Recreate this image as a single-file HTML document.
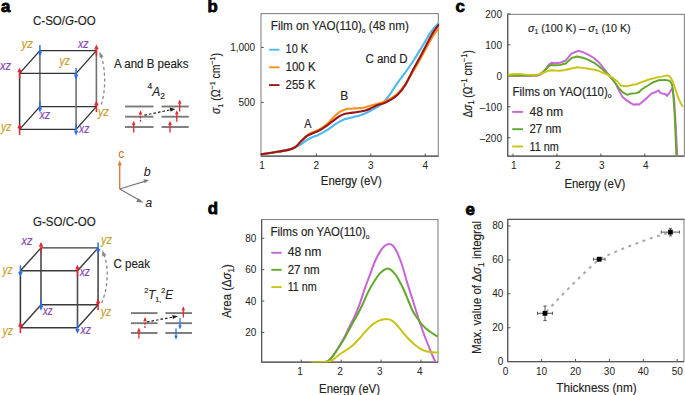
<!DOCTYPE html>
<html><head><meta charset="utf-8"><style>
html,body{margin:0;padding:0;background:#fff;}
svg{display:block;font-family:"Liberation Sans", sans-serif;}
text{stroke:#222;stroke-width:0.15px;}
</style></head><body>
<svg width="685" height="395" viewBox="0 0 685 395">
<text x="1.0" y="11.9" font-size="16.8" text-anchor="start" fill="#000" font-weight="bold" font-style="normal" style="stroke:#000;stroke-width:0.8px">a</text>
<text x="33" y="25.3" font-size="12" text-anchor="start" fill="#222" font-weight="normal" font-style="normal" textLength="62.7" lengthAdjust="spacingAndGlyphs" style="stroke:#222;stroke-width:0.15px" >C-SO/<tspan font-style="italic">G</tspan>-OO</text>
<line x1="39.900000000000006" y1="50.60000000000001" x2="39.900000000000006" y2="106.60000000000001" stroke="#707070" stroke-width="1.6" />
<line x1="96.39999999999999" y1="50.60000000000001" x2="96.39999999999999" y2="106.60000000000001" stroke="#707070" stroke-width="1.6" />
<line x1="39.900000000000006" y1="50.60000000000001" x2="96.39999999999999" y2="50.60000000000001" stroke="#333" stroke-width="1.4" />
<line x1="39.900000000000006" y1="106.60000000000001" x2="96.39999999999999" y2="106.60000000000001" stroke="#333" stroke-width="1.4" />
<line x1="19.6" y1="73.4" x2="39.900000000000006" y2="50.60000000000001" stroke="#333" stroke-width="1.4" />
<line x1="76.1" y1="73.4" x2="96.39999999999999" y2="50.60000000000001" stroke="#333" stroke-width="1.4" />
<line x1="19.6" y1="129.4" x2="39.900000000000006" y2="106.60000000000001" stroke="#333" stroke-width="1.4" />
<line x1="76.1" y1="129.4" x2="96.39999999999999" y2="106.60000000000001" stroke="#333" stroke-width="1.4" />
<line x1="19.6" y1="73.4" x2="76.1" y2="73.4" stroke="#333" stroke-width="1.4" />
<line x1="19.6" y1="129.4" x2="76.1" y2="129.4" stroke="#333" stroke-width="1.4" />
<line x1="19.6" y1="73.4" x2="19.6" y2="129.4" stroke="#333" stroke-width="1.5" />
<line x1="76.1" y1="73.4" x2="76.1" y2="129.4" stroke="#707070" stroke-width="1.6" />
<line x1="39.900000000000006" y1="45.10000000000001" x2="39.900000000000006" y2="51.80000000000001" stroke="#2f6fe0" stroke-width="1.5" />
<polygon points="37.60000000000001,51.80000000000001 42.2,51.80000000000001 39.900000000000006,56.60000000000001" fill="#2f6fe0"/>
<line x1="96.39999999999999" y1="56.10000000000001" x2="96.39999999999999" y2="49.400000000000006" stroke="#e8232b" stroke-width="1.5" />
<polygon points="94.1,49.400000000000006 98.69999999999999,49.400000000000006 96.39999999999999,44.60000000000001" fill="#e8232b"/>
<line x1="19.6" y1="78.9" x2="19.6" y2="72.2" stroke="#e8232b" stroke-width="1.5" />
<polygon points="17.3,72.2 21.900000000000002,72.2 19.6,67.4" fill="#e8232b"/>
<line x1="76.1" y1="67.9" x2="76.1" y2="74.60000000000001" stroke="#2f6fe0" stroke-width="1.5" />
<polygon points="73.8,74.60000000000001 78.39999999999999,74.60000000000001 76.1,79.4" fill="#2f6fe0"/>
<line x1="39.900000000000006" y1="101.10000000000001" x2="39.900000000000006" y2="107.80000000000001" stroke="#2f6fe0" stroke-width="1.5" />
<polygon points="37.60000000000001,107.80000000000001 42.2,107.80000000000001 39.900000000000006,112.60000000000001" fill="#2f6fe0"/>
<line x1="96.39999999999999" y1="112.10000000000001" x2="96.39999999999999" y2="105.4" stroke="#e8232b" stroke-width="1.5" />
<polygon points="94.1,105.4 98.69999999999999,105.4 96.39999999999999,100.60000000000001" fill="#e8232b"/>
<line x1="19.6" y1="134.9" x2="19.6" y2="128.20000000000002" stroke="#e8232b" stroke-width="1.5" />
<polygon points="17.3,128.20000000000002 21.900000000000002,128.20000000000002 19.6,123.4" fill="#e8232b"/>
<line x1="76.1" y1="123.9" x2="76.1" y2="130.6" stroke="#2f6fe0" stroke-width="1.5" />
<polygon points="73.8,130.6 78.39999999999999,130.6 76.1,135.4" fill="#2f6fe0"/>
<text x="21.5" y="48" font-size="12" text-anchor="start" fill="#c9a030" font-weight="normal" font-style="italic" textLength="11.5" lengthAdjust="spacingAndGlyphs" style="stroke:#c9a030;stroke-width:0.15px" >yz</text>
<text x="78" y="47.5" font-size="12" text-anchor="start" fill="#8447b8" font-weight="normal" font-style="italic" textLength="10.6" lengthAdjust="spacingAndGlyphs" style="stroke:#8447b8;stroke-width:0.15px" >xz</text>
<text x="0" y="69.5" font-size="12" text-anchor="start" fill="#8447b8" font-weight="normal" font-style="italic" textLength="11" lengthAdjust="spacingAndGlyphs" style="stroke:#8447b8;stroke-width:0.15px" >xz</text>
<text x="59.5" y="64.8" font-size="12" text-anchor="start" fill="#c9a030" font-weight="normal" font-style="italic" textLength="10.5" lengthAdjust="spacingAndGlyphs" style="stroke:#c9a030;stroke-width:0.15px" >yz</text>
<text x="39.4" y="118.8" font-size="12" text-anchor="start" fill="#8447b8" font-weight="normal" font-style="italic" textLength="10.6" lengthAdjust="spacingAndGlyphs" style="stroke:#8447b8;stroke-width:0.15px" >xz</text>
<text x="98" y="115.5" font-size="12" text-anchor="start" fill="#c9a030" font-weight="normal" font-style="italic" textLength="11" lengthAdjust="spacingAndGlyphs" style="stroke:#c9a030;stroke-width:0.15px" >yz</text>
<text x="0.9" y="131.3" font-size="12" text-anchor="start" fill="#c9a030" font-weight="normal" font-style="italic" textLength="10.5" lengthAdjust="spacingAndGlyphs" style="stroke:#c9a030;stroke-width:0.15px" >yz</text>
<text x="79" y="133.3" font-size="12" text-anchor="start" fill="#8447b8" font-weight="normal" font-style="italic" textLength="10.3" lengthAdjust="spacingAndGlyphs" style="stroke:#8447b8;stroke-width:0.15px" >xz</text>
<path d="M101.2,104.5 C105.5,92 106,72 101.5,57" fill="none" stroke="#8a8a8a" stroke-width="1.3" stroke-dasharray="3.2,2.6"/>
<polygon points="99.4,51.6 103.6,56.6 99.6,57.8" fill="#8a8a8a"/>
<text x="114" y="67.8" font-size="12" text-anchor="start" fill="#222" font-weight="normal" font-style="normal" textLength="74.4" lengthAdjust="spacingAndGlyphs" style="stroke:#222;stroke-width:0.15px" >A and B peaks</text>
<text x="147.5" y="95.5" font-size="12" fill="#222"><tspan font-size="8.5" dy="-6.5">4</tspan><tspan font-style="italic" dy="6.5">A</tspan><tspan font-size="8.5" dy="3.5">2</tspan></text>
<line x1="125" y1="106.5" x2="153.5" y2="106.5" stroke="#7a7a7a" stroke-width="1.9" />
<line x1="125" y1="116.7" x2="153.5" y2="116.7" stroke="#7a7a7a" stroke-width="1.9" />
<line x1="125" y1="127" x2="153.5" y2="127" stroke="#7a7a7a" stroke-width="1.9" />
<line x1="161.5" y1="106.5" x2="188.8" y2="106.5" stroke="#7a7a7a" stroke-width="1.9" />
<line x1="161.5" y1="116.7" x2="188.8" y2="116.7" stroke="#7a7a7a" stroke-width="1.9" />
<line x1="161.5" y1="127" x2="188.8" y2="127" stroke="#7a7a7a" stroke-width="1.9" />
<line x1="133.7" y1="132.5" x2="133.7" y2="125.0" stroke="#e8232b" stroke-width="1.3" />
<polygon points="131.89999999999998,125.0 135.5,125.0 133.7,120.8" fill="#e8232b"/>
<line x1="140.5" y1="121.8" x2="140.5" y2="114.5" stroke="#e8232b" stroke-width="1.3" stroke-dasharray="2,1.2"/>
<polygon points="138.7,114.5 142.3,114.5 140.5,110.3" fill="#e8232b"/>
<line x1="170" y1="132.5" x2="170" y2="125.0" stroke="#e8232b" stroke-width="1.3" />
<polygon points="168.2,125.0 171.8,125.0 170,120.8" fill="#e8232b"/>
<line x1="176.8" y1="121.8" x2="176.8" y2="114.5" stroke="#e8232b" stroke-width="1.3" />
<polygon points="175.0,114.5 178.60000000000002,114.5 176.8,110.3" fill="#e8232b"/>
<line x1="179.7" y1="111.5" x2="179.7" y2="103.7" stroke="#e8232b" stroke-width="1.3" />
<polygon points="177.89999999999998,103.7 181.5,103.7 179.7,99.5" fill="#e8232b"/>
<line x1="144.4" y1="115.2" x2="170.5" y2="109.8" stroke="#222" stroke-width="1.2" stroke-dasharray="2.6,2"/>
<polygon points="175.3,109.0 169.6,107.6 170.6,111.8" fill="#222"/>
<line x1="119.7" y1="189" x2="119.7" y2="165" stroke="#e07b39" stroke-width="1.4" />
<polygon points="117.6,165.5 121.8,165.5 119.7,160.3" fill="#e07b39"/>
<text x="118.2" y="157.5" font-size="12" text-anchor="start" fill="#d0692c" font-weight="normal" font-style="normal" style="stroke:none">c</text>
<line x1="119.7" y1="189" x2="144.5" y2="181.3" stroke="#7a7a7a" stroke-width="1.3" />
<polygon points="149,180 143.4,179.2 144.6,183.3" fill="#7a7a7a"/>
<line x1="119.7" y1="189" x2="139.5" y2="200.2" stroke="#7a7a7a" stroke-width="1.3" />
<polygon points="143.5,202.6 138.3,198.2 136.3,201.9" fill="#7a7a7a"/>
<text x="143.8" y="176.4" font-size="12.5" text-anchor="start" fill="#222" font-weight="normal" font-style="italic" style="stroke:none">b</text>
<text x="145.3" y="207.2" font-size="12.5" text-anchor="start" fill="#222" font-weight="normal" font-style="italic" style="stroke:none">a</text>
<text x="33" y="226" font-size="12" text-anchor="start" fill="#222" font-weight="normal" font-style="normal" textLength="62.7" lengthAdjust="spacingAndGlyphs" style="stroke:#222;stroke-width:0.15px" >G-SO/C-OO</text>
<line x1="41.0" y1="247.9" x2="41.0" y2="304.8" stroke="#4a4a4a" stroke-width="1.6" />
<line x1="98.1" y1="247.9" x2="98.1" y2="304.8" stroke="#4a4a4a" stroke-width="1.6" />
<line x1="41.0" y1="247.9" x2="98.1" y2="247.9" stroke="#3a3a3a" stroke-width="1.4" />
<line x1="41.0" y1="304.8" x2="98.1" y2="304.8" stroke="#3a3a3a" stroke-width="1.4" />
<line x1="20.4" y1="270.8" x2="41.0" y2="247.9" stroke="#3a3a3a" stroke-width="1.4" />
<line x1="77.5" y1="270.8" x2="98.1" y2="247.9" stroke="#3a3a3a" stroke-width="1.4" />
<line x1="20.4" y1="327.7" x2="41.0" y2="304.8" stroke="#3a3a3a" stroke-width="1.4" />
<line x1="77.5" y1="327.7" x2="98.1" y2="304.8" stroke="#3a3a3a" stroke-width="1.4" />
<line x1="20.4" y1="270.8" x2="77.5" y2="270.8" stroke="#3a3a3a" stroke-width="1.4" />
<line x1="20.4" y1="327.7" x2="77.5" y2="327.7" stroke="#3a3a3a" stroke-width="1.4" />
<line x1="20.4" y1="270.8" x2="20.4" y2="327.7" stroke="#333" stroke-width="1.5" />
<line x1="77.5" y1="270.8" x2="77.5" y2="327.7" stroke="#4a4a4a" stroke-width="1.6" />
<line x1="41.0" y1="253.4" x2="41.0" y2="246.70000000000002" stroke="#e8232b" stroke-width="1.5" />
<polygon points="38.7,246.70000000000002 43.3,246.70000000000002 41.0,241.9" fill="#e8232b"/>
<line x1="98.1" y1="242.4" x2="98.1" y2="249.1" stroke="#2f6fe0" stroke-width="1.5" />
<polygon points="95.8,249.1 100.39999999999999,249.1 98.1,253.9" fill="#2f6fe0"/>
<line x1="20.4" y1="265.3" x2="20.4" y2="272.0" stroke="#2f6fe0" stroke-width="1.5" />
<polygon points="18.099999999999998,272.0 22.7,272.0 20.4,276.8" fill="#2f6fe0"/>
<line x1="77.5" y1="276.3" x2="77.5" y2="269.6" stroke="#e8232b" stroke-width="1.5" />
<polygon points="75.2,269.6 79.8,269.6 77.5,264.8" fill="#e8232b"/>
<line x1="41.0" y1="299.3" x2="41.0" y2="306.0" stroke="#2f6fe0" stroke-width="1.5" />
<polygon points="38.7,306.0 43.3,306.0 41.0,310.8" fill="#2f6fe0"/>
<line x1="98.1" y1="310.3" x2="98.1" y2="303.6" stroke="#e8232b" stroke-width="1.5" />
<polygon points="95.8,303.6 100.39999999999999,303.6 98.1,298.8" fill="#e8232b"/>
<line x1="20.4" y1="333.2" x2="20.4" y2="326.5" stroke="#e8232b" stroke-width="1.5" />
<polygon points="18.099999999999998,326.5 22.7,326.5 20.4,321.7" fill="#e8232b"/>
<line x1="77.5" y1="322.2" x2="77.5" y2="328.9" stroke="#2f6fe0" stroke-width="1.5" />
<polygon points="75.2,328.9 79.8,328.9 77.5,333.7" fill="#2f6fe0"/>
<text x="21.5" y="245" font-size="12" text-anchor="start" fill="#8447b8" font-weight="normal" font-style="italic" textLength="10.9" lengthAdjust="spacingAndGlyphs" style="stroke:#8447b8;stroke-width:0.15px" >xz</text>
<text x="101" y="243.5" font-size="12" text-anchor="start" fill="#c9a030" font-weight="normal" font-style="italic" textLength="11" lengthAdjust="spacingAndGlyphs" style="stroke:#c9a030;stroke-width:0.15px" >yz</text>
<text x="2.5" y="273.8" font-size="12" text-anchor="start" fill="#c9a030" font-weight="normal" font-style="italic" textLength="10.2" lengthAdjust="spacingAndGlyphs" style="stroke:#c9a030;stroke-width:0.15px" >yz</text>
<text x="79.7" y="276" font-size="12" text-anchor="start" fill="#8447b8" font-weight="normal" font-style="italic" textLength="10.3" lengthAdjust="spacingAndGlyphs" style="stroke:#8447b8;stroke-width:0.15px" >xz</text>
<text x="43" y="315" font-size="12" text-anchor="start" fill="#8447b8" font-weight="normal" font-style="italic" textLength="9.6" lengthAdjust="spacingAndGlyphs" style="stroke:#8447b8;stroke-width:0.15px" >xz</text>
<text x="100.7" y="315.5" font-size="12" text-anchor="start" fill="#c9a030" font-weight="normal" font-style="italic" textLength="10.5" lengthAdjust="spacingAndGlyphs" style="stroke:#c9a030;stroke-width:0.15px" >yz</text>
<text x="2.6" y="335" font-size="12" text-anchor="start" fill="#c9a030" font-weight="normal" font-style="italic" textLength="10.5" lengthAdjust="spacingAndGlyphs" style="stroke:#c9a030;stroke-width:0.15px" >yz</text>
<text x="80.6" y="333.8" font-size="12" text-anchor="start" fill="#8447b8" font-weight="normal" font-style="italic" textLength="10.4" lengthAdjust="spacingAndGlyphs" style="stroke:#8447b8;stroke-width:0.15px" >xz</text>
<path d="M101.6,303 C107.5,290 109.5,268 104,255" fill="none" stroke="#8a8a8a" stroke-width="1.3" stroke-dasharray="3.2,2.6"/>
<polygon points="102.2,250.2 106.4,255.2 102.2,256.4" fill="#8a8a8a"/>
<text x="113.6" y="268" font-size="12" text-anchor="start" fill="#222" font-weight="normal" font-style="normal" textLength="36.4" lengthAdjust="spacingAndGlyphs" style="stroke:#222;stroke-width:0.15px" >C peak</text>
<text x="144.2" y="299" font-size="12" fill="#222" textLength="28.8" lengthAdjust="spacingAndGlyphs"><tspan font-size="7.5" dy="-6">2</tspan><tspan font-style="italic" dy="6">T</tspan><tspan font-size="7.5" dy="2.5">1,</tspan><tspan font-size="7.5" dy="-8.5">2</tspan><tspan font-style="italic" dy="6">E</tspan></text>
<line x1="130.9" y1="313.1" x2="157.5" y2="313.1" stroke="#7a7a7a" stroke-width="1.9" />
<line x1="130.9" y1="323.2" x2="157.5" y2="323.2" stroke="#7a7a7a" stroke-width="1.9" />
<line x1="130.9" y1="333" x2="157.5" y2="333" stroke="#7a7a7a" stroke-width="1.9" />
<line x1="165.4" y1="313.1" x2="192" y2="313.1" stroke="#7a7a7a" stroke-width="1.9" />
<line x1="165.4" y1="323.2" x2="192" y2="323.2" stroke="#7a7a7a" stroke-width="1.9" />
<line x1="165.4" y1="333" x2="192" y2="333" stroke="#7a7a7a" stroke-width="1.9" />
<line x1="138.9" y1="338.5" x2="138.9" y2="331.7" stroke="#e8232b" stroke-width="1.3" />
<polygon points="137.1,331.7 140.70000000000002,331.7 138.9,327.5" fill="#e8232b"/>
<line x1="145" y1="328" x2="145" y2="321.2" stroke="#e8232b" stroke-width="1.3" stroke-dasharray="2,1.2"/>
<polygon points="143.2,321.2 146.8,321.2 145,317" fill="#e8232b"/>
<line x1="183.3" y1="317.5" x2="183.3" y2="310.5" stroke="#e8232b" stroke-width="1.3" />
<polygon points="181.5,310.5 185.10000000000002,310.5 183.3,306.3" fill="#e8232b"/>
<line x1="180" y1="318" x2="180" y2="325.3" stroke="#2f6fe0" stroke-width="1.3" />
<polygon points="178.2,325.3 181.8,325.3 180,329.5" fill="#2f6fe0"/>
<line x1="176" y1="328.5" x2="176" y2="335.6" stroke="#2f6fe0" stroke-width="1.3" />
<polygon points="174.2,335.6 177.8,335.6 176,339.8" fill="#2f6fe0"/>
<line x1="146.9" y1="321.9" x2="173" y2="317.1" stroke="#222" stroke-width="1.2" stroke-dasharray="2.6,2"/>
<polygon points="178,316.3 172.2,314.9 172.9,319.1" fill="#222"/>
<text x="207.6" y="11.9" font-size="16.8" text-anchor="start" fill="#000" font-weight="bold" font-style="normal" style="stroke:#000;stroke-width:0.8px">b</text>
<rect x="261" y="13.6" width="177.3" height="142.6" fill="none" stroke="#868686" stroke-width="1.1"/>
<line x1="261" y1="156.2" x2="438.3" y2="156.2" stroke="#555" stroke-width="1.2" />
<text x="262.0" y="168.8" font-size="10" text-anchor="middle" fill="#222" font-weight="normal" font-style="normal" style="stroke:none" >1</text>
<line x1="316.4" y1="156.2" x2="316.4" y2="153.6" stroke="#555" stroke-width="1" />
<text x="316.4" y="168.8" font-size="10" text-anchor="middle" fill="#222" font-weight="normal" font-style="normal" style="stroke:none" >2</text>
<line x1="370.79999999999995" y1="156.2" x2="370.79999999999995" y2="153.6" stroke="#555" stroke-width="1" />
<text x="370.79999999999995" y="168.8" font-size="10" text-anchor="middle" fill="#222" font-weight="normal" font-style="normal" style="stroke:none" >3</text>
<line x1="425.2" y1="156.2" x2="425.2" y2="153.6" stroke="#555" stroke-width="1" />
<text x="425.2" y="168.8" font-size="10" text-anchor="middle" fill="#222" font-weight="normal" font-style="normal" style="stroke:none" >4</text>
<line x1="261" y1="102.4" x2="263.8" y2="102.4" stroke="#555" stroke-width="1" />
<text x="255.2" y="106.0" font-size="10" text-anchor="end" fill="#222" font-weight="normal" font-style="normal" style="stroke:none" >500</text>
<line x1="261" y1="47.400000000000006" x2="263.8" y2="47.400000000000006" stroke="#555" stroke-width="1" />
<text x="255.2" y="51.00000000000001" font-size="10" text-anchor="end" fill="#222" font-weight="normal" font-style="normal" style="stroke:none" >1,000</text>
<text x="320.8" y="184.9" font-size="12" text-anchor="start" fill="#222" font-weight="normal" font-style="normal" textLength="61" lengthAdjust="spacingAndGlyphs" style="stroke:#222;stroke-width:0.15px" >Energy (eV)</text>
<text transform="translate(220.3,114) rotate(-90)" font-size="12" fill="#222" textLength="61" lengthAdjust="spacingAndGlyphs"><tspan font-style="italic">σ</tspan><tspan font-size="8" dy="2.5">1</tspan><tspan dy="-2.5"> (Ω</tspan><tspan font-size="8" dy="-5">−1</tspan><tspan dy="5"> cm</tspan><tspan font-size="8" dy="-5">−1</tspan><tspan dy="5">)</tspan></text>
<text x="270.8" y="29.9" font-size="12" fill="#222" textLength="138" lengthAdjust="spacingAndGlyphs">Film on YAO(110)<tspan font-size="7" dy="2.8">o</tspan><tspan dy="-2.8"> (48 nm)</tspan></text>
<line x1="269.1" y1="49.7" x2="279.5" y2="49.7" stroke="#4db8f2" stroke-width="1.9" />
<line x1="269.1" y1="67.3" x2="279.5" y2="67.3" stroke="#f7901e" stroke-width="1.9" />
<line x1="269.1" y1="85.1" x2="279.5" y2="85.1" stroke="#9a1515" stroke-width="1.9" />
<text x="285.6" y="53.3" font-size="12" text-anchor="start" fill="#222" font-weight="normal" font-style="normal" textLength="22.4" lengthAdjust="spacingAndGlyphs" style="stroke:#222;stroke-width:0.15px" >10 K</text>
<text x="285.6" y="71" font-size="12" text-anchor="start" fill="#222" font-weight="normal" font-style="normal" textLength="30" lengthAdjust="spacingAndGlyphs" style="stroke:#222;stroke-width:0.15px" >100 K</text>
<text x="285.6" y="88.6" font-size="12" text-anchor="start" fill="#222" font-weight="normal" font-style="normal" textLength="29.6" lengthAdjust="spacingAndGlyphs" style="stroke:#222;stroke-width:0.15px" >255 K</text>
<text x="304.3" y="128.2" font-size="12" text-anchor="start" fill="#222" font-weight="normal" font-style="normal" textLength="7.2" lengthAdjust="spacingAndGlyphs" style="stroke:#222;stroke-width:0.15px" >A</text>
<text x="340.3" y="99.9" font-size="12" text-anchor="start" fill="#222" font-weight="normal" font-style="normal" style="stroke:#222;stroke-width:0.15px" >B</text>
<text x="365.4" y="63.2" font-size="12" text-anchor="start" fill="#222" font-weight="normal" font-style="normal" textLength="42.2" lengthAdjust="spacingAndGlyphs" style="stroke:#222;stroke-width:0.15px" >C and D</text>
<path d="M261.50,154.30 C262.32,154.17 264.20,153.85 266.40,153.50 C268.60,153.15 271.95,152.63 274.70,152.20 C277.45,151.77 280.28,151.37 282.90,150.90 C285.52,150.43 288.23,150.03 290.40,149.40 C292.57,148.77 294.08,147.97 295.90,147.10 C297.72,146.23 299.48,145.37 301.30,144.20 C303.12,143.03 304.98,141.25 306.80,140.10 C308.62,138.95 310.38,138.12 312.20,137.30 C314.02,136.48 315.88,136.02 317.70,135.20 C319.52,134.38 321.28,133.40 323.10,132.40 C324.92,131.40 326.60,130.53 328.60,129.20 C330.60,127.87 333.18,125.70 335.10,124.40 C337.02,123.10 338.42,122.28 340.10,121.40 C341.78,120.52 343.50,119.70 345.20,119.10 C346.90,118.50 348.62,118.22 350.30,117.80 C351.98,117.38 353.62,117.02 355.30,116.60 C356.98,116.18 358.70,115.87 360.40,115.30 C362.10,114.73 363.82,113.97 365.50,113.20 C367.18,112.43 368.58,111.70 370.50,110.70 C372.42,109.70 374.77,108.68 377.00,107.20 C379.23,105.72 381.58,104.20 383.90,101.80 C386.22,99.40 388.57,96.05 390.90,92.80 C393.23,89.55 395.58,85.57 397.90,82.30 C400.22,79.03 402.25,76.75 404.80,73.20 C407.35,69.65 410.43,65.22 413.20,61.00 C415.97,56.78 418.67,52.42 421.40,47.90 C424.13,43.38 427.53,37.20 429.60,33.90 C431.67,30.60 432.35,29.83 433.80,28.10 C435.25,26.37 437.55,24.27 438.30,23.50" fill="none" stroke="#4db8f2" stroke-width="2.1" stroke-linejoin="round" stroke-linecap="round" />
<path d="M261.50,154.30 C262.32,154.17 264.20,153.85 266.40,153.50 C268.60,153.15 271.95,152.63 274.70,152.20 C277.45,151.77 280.28,151.38 282.90,150.90 C285.52,150.42 288.23,150.02 290.40,149.30 C292.57,148.58 294.08,147.98 295.90,146.60 C297.72,145.22 299.48,142.85 301.30,141.00 C303.12,139.15 304.98,136.93 306.80,135.50 C308.62,134.07 310.38,133.27 312.20,132.40 C314.02,131.53 315.88,131.20 317.70,130.30 C319.52,129.40 321.28,128.28 323.10,127.00 C324.92,125.72 326.60,124.47 328.60,122.60 C330.60,120.73 333.18,117.62 335.10,115.80 C337.02,113.98 338.42,112.77 340.10,111.70 C341.78,110.63 343.50,109.90 345.20,109.40 C346.90,108.90 348.62,108.87 350.30,108.70 C351.98,108.53 353.62,108.52 355.30,108.40 C356.98,108.28 358.70,108.20 360.40,108.00 C362.10,107.80 363.82,107.57 365.50,107.20 C367.18,106.83 368.58,106.35 370.50,105.80 C372.42,105.25 374.77,104.57 377.00,103.90 C379.23,103.23 381.58,102.73 383.90,101.80 C386.22,100.87 388.57,99.72 390.90,98.30 C393.23,96.88 395.58,95.53 397.90,93.30 C400.22,91.07 402.25,88.58 404.80,84.90 C407.35,81.22 410.43,75.87 413.20,71.20 C415.97,66.53 418.67,61.75 421.40,56.90 C424.13,52.05 427.53,45.80 429.60,42.10 C431.67,38.40 432.35,36.95 433.80,34.70 C435.25,32.45 437.55,29.62 438.30,28.60" fill="none" stroke="#f7901e" stroke-width="2.1" stroke-linejoin="round" stroke-linecap="round" />
<path d="M261.50,154.30 C262.32,154.17 264.20,153.85 266.40,153.50 C268.60,153.15 271.95,152.63 274.70,152.20 C277.45,151.77 280.28,151.38 282.90,150.90 C285.52,150.42 288.23,150.02 290.40,149.30 C292.57,148.58 294.08,147.97 295.90,146.60 C297.72,145.23 299.48,142.83 301.30,141.10 C303.12,139.37 304.98,137.47 306.80,136.20 C308.62,134.93 310.38,134.32 312.20,133.50 C314.02,132.68 315.88,132.20 317.70,131.30 C319.52,130.40 321.28,129.27 323.10,128.10 C324.92,126.93 326.60,125.77 328.60,124.30 C330.60,122.83 333.18,120.72 335.10,119.30 C337.02,117.88 338.42,116.73 340.10,115.80 C341.78,114.87 343.50,114.17 345.20,113.70 C346.90,113.23 348.62,113.25 350.30,113.00 C351.98,112.75 353.62,112.45 355.30,112.20 C356.98,111.95 358.70,111.80 360.40,111.50 C362.10,111.20 363.82,110.90 365.50,110.40 C367.18,109.90 368.58,109.35 370.50,108.50 C372.42,107.65 374.77,106.18 377.00,105.30 C379.23,104.42 381.58,104.13 383.90,103.20 C386.22,102.27 388.57,101.13 390.90,99.70 C393.23,98.27 395.58,96.92 397.90,94.60 C400.22,92.28 402.25,89.97 404.80,85.80 C407.35,81.63 410.43,74.83 413.20,69.60 C415.97,64.37 418.67,59.53 421.40,54.40 C424.13,49.27 427.53,42.63 429.60,38.80 C431.67,34.97 432.35,33.67 433.80,31.40 C435.25,29.13 437.55,26.23 438.30,25.20" fill="none" stroke="#9a1515" stroke-width="2.1" stroke-linejoin="round" stroke-linecap="round" />
<text x="455.6" y="12.1" font-size="16.8" text-anchor="start" fill="#000" font-weight="bold" font-style="normal" style="stroke:#000;stroke-width:0.8px">c</text>
<rect x="507.7" y="14.4" width="176.7" height="141.8" fill="none" stroke="#868686" stroke-width="1.1"/>
<line x1="507.7" y1="156.2" x2="683.8" y2="156.2" stroke="#555" stroke-width="1.2" />
<line x1="507.7" y1="14.4" x2="507.7" y2="156.2" stroke="#555" stroke-width="1.2" />
<line x1="513.0" y1="156.2" x2="513.0" y2="153.6" stroke="#555" stroke-width="1" />
<text x="513.9" y="168.8" font-size="10" text-anchor="middle" fill="#222" font-weight="normal" font-style="normal" style="stroke:none" >1</text>
<line x1="556.93" y1="156.2" x2="556.93" y2="153.6" stroke="#555" stroke-width="1" />
<text x="557.8299999999999" y="168.8" font-size="10" text-anchor="middle" fill="#222" font-weight="normal" font-style="normal" style="stroke:none" >2</text>
<line x1="600.86" y1="156.2" x2="600.86" y2="153.6" stroke="#555" stroke-width="1" />
<text x="601.76" y="168.8" font-size="10" text-anchor="middle" fill="#222" font-weight="normal" font-style="normal" style="stroke:none" >3</text>
<line x1="644.79" y1="156.2" x2="644.79" y2="153.6" stroke="#555" stroke-width="1" />
<text x="645.6899999999999" y="168.8" font-size="10" text-anchor="middle" fill="#222" font-weight="normal" font-style="normal" style="stroke:none" >4</text>
<line x1="507.7" y1="13.86" x2="510.4" y2="13.86" stroke="#555" stroke-width="1" />
<text x="502.0" y="18.3" font-size="10" text-anchor="end" fill="#222" font-weight="normal" font-style="normal" style="stroke:none" >200</text>
<line x1="507.7" y1="44.83" x2="510.4" y2="44.83" stroke="#555" stroke-width="1" />
<text x="502.0" y="48.83" font-size="10" text-anchor="end" fill="#222" font-weight="normal" font-style="normal" style="stroke:none" >100</text>
<line x1="507.7" y1="75.8" x2="510.4" y2="75.8" stroke="#555" stroke-width="1" />
<text x="502.0" y="79.8" font-size="10" text-anchor="end" fill="#222" font-weight="normal" font-style="normal" style="stroke:none" >0</text>
<line x1="507.7" y1="106.77" x2="510.4" y2="106.77" stroke="#555" stroke-width="1" />
<text x="502.0" y="110.77" font-size="10" text-anchor="end" fill="#222" font-weight="normal" font-style="normal" style="stroke:none" >–100</text>
<line x1="507.7" y1="137.74" x2="510.4" y2="137.74" stroke="#555" stroke-width="1" />
<text x="502.0" y="141.74" font-size="10" text-anchor="end" fill="#222" font-weight="normal" font-style="normal" style="stroke:none" >–200</text>
<text x="564.4" y="188" font-size="12" text-anchor="start" fill="#222" font-weight="normal" font-style="normal" textLength="61" lengthAdjust="spacingAndGlyphs" style="stroke:#222;stroke-width:0.15px" >Energy (eV)</text>
<text transform="translate(471.8,117.6) rotate(-90)" font-size="12" fill="#222" textLength="67.4" lengthAdjust="spacingAndGlyphs">Δ<tspan font-style="italic">σ</tspan><tspan font-size="8.5" dy="2.5">1</tspan><tspan dy="-2.5"> (Ω</tspan><tspan font-size="8.5" dy="-4.5">−1</tspan><tspan dy="4.5"> cm</tspan><tspan font-size="8.5" dy="-4.5">−1</tspan><tspan dy="4.5">)</tspan></text>
<text x="527.9" y="31.6" style="stroke-width:0.15px" font-size="11.8" fill="#222" textLength="102.8" lengthAdjust="spacingAndGlyphs"><tspan font-style="italic">σ</tspan><tspan font-size="7.5" dy="2.5">1</tspan><tspan dy="-2.5"> (100 K) – </tspan><tspan font-style="italic">σ</tspan><tspan font-size="7.5" dy="2.5">1</tspan><tspan dy="-2.5"> (10 K)</tspan></text>
<text x="512.6" y="95.5" font-size="12" fill="#222" textLength="98.8" lengthAdjust="spacingAndGlyphs">Films on YAO(110)<tspan font-size="7" dy="2.9">o</tspan></text>
<line x1="512.2" y1="111.9" x2="523" y2="111.9" stroke="#c764d8" stroke-width="1.9" />
<line x1="512.2" y1="129.2" x2="523" y2="129.2" stroke="#62a828" stroke-width="1.9" />
<line x1="512.2" y1="146.5" x2="523" y2="146.5" stroke="#c9c414" stroke-width="1.9" />
<text x="529.5" y="116.1" font-size="12" text-anchor="start" fill="#222" font-weight="normal" font-style="normal" textLength="33.6" lengthAdjust="spacingAndGlyphs" style="stroke:#222;stroke-width:0.15px" >48 nm</text>
<text x="529.5" y="133.4" font-size="12" text-anchor="start" fill="#222" font-weight="normal" font-style="normal" textLength="31.8" lengthAdjust="spacingAndGlyphs" style="stroke:#222;stroke-width:0.15px" >27 nm</text>
<text x="529.5" y="150.8" font-size="12" text-anchor="start" fill="#222" font-weight="normal" font-style="normal" textLength="29.2" lengthAdjust="spacingAndGlyphs" style="stroke:#222;stroke-width:0.15px" >11 nm</text>
<clipPath id="clc"><rect x="507.7" y="14.4" width="176.1" height="141.8"/></clipPath>
<g clip-path="url(#clc)">
<path d="M508.30,75.80 L520.00,75.80 L536.90,75.80 L541.40,74.20 L544.90,70.20 L548.80,64.50 L551.70,62.80 L555.10,63.30 L559.70,62.80 L565.70,60.50 L571.40,53.70 L578.20,50.80 L582.80,52.00 L588.50,54.80 L594.20,58.20 L598.70,62.20 L603.30,67.90 L607.80,73.60 L612.40,79.30 L615.60,83.70 L618.30,89.20 L622.50,96.90 L626.70,100.40 L630.90,103.10 L633.70,104.80 L636.40,104.20 L639.20,104.50 L643.40,101.00 L647.60,97.30 L651.70,93.40 L655.90,92.00 L658.70,90.30 L660.10,92.70 L662.90,93.70 L665.70,94.10 L667.00,95.90 L669.10,93.40 L671.20,89.90 L672.50,88.00 L674.20,100.00 L675.70,125.00 L677.30,156.00" fill="none" stroke="#c764d8" stroke-width="1.9" stroke-linejoin="round" stroke-linecap="round" />
<path d="M508.30,75.60 L520.00,75.60 L530.00,75.60 L539.20,74.70 L543.70,71.30 L548.30,66.80 L550.60,65.00 L555.10,65.30 L559.70,65.00 L565.70,63.50 L571.40,58.20 L577.10,56.50 L582.80,57.70 L588.50,59.90 L594.20,62.80 L598.70,66.20 L602.10,69.00 L603.30,70.20 L607.80,74.20 L612.40,79.30 L615.80,83.80 L619.70,89.20 L623.20,92.70 L627.40,94.80 L630.20,93.70 L636.40,93.10 L639.20,92.00 L642.00,89.20 L647.60,85.70 L651.70,83.00 L658.70,80.20 L665.70,79.90 L669.80,80.90 L671.90,83.70 L673.30,94.80 L674.70,115.00 L676.30,156.00" fill="none" stroke="#62a828" stroke-width="1.9" stroke-linejoin="round" stroke-linecap="round" />
<path d="M508.30,74.70 L513.00,74.30 L518.70,73.90 L526.00,74.60 L533.50,75.00 L539.20,74.40 L543.70,72.50 L548.30,70.80 L551.70,70.20 L555.10,70.50 L559.70,70.80 L565.00,70.00 L571.40,68.50 L577.10,67.30 L582.80,67.90 L588.50,68.80 L594.20,69.80 L598.70,70.80 L603.30,73.00 L607.80,74.70 L612.40,77.60 L617.00,81.20 L621.10,85.70 L626.70,86.20 L629.50,85.70 L632.30,84.80 L636.40,84.30 L640.60,82.30 L649.00,79.50 L657.30,77.40 L662.90,76.40 L667.00,75.30 L669.80,76.40 L672.60,80.90 L675.40,89.20 L678.20,97.60 L681.00,103.80 L682.60,106.20" fill="none" stroke="#c9c414" stroke-width="1.9" stroke-linejoin="round" stroke-linecap="round" />
</g>
<text x="207.8" y="214.0" font-size="16.8" text-anchor="start" fill="#000" font-weight="bold" font-style="normal" style="stroke:#000;stroke-width:0.8px">d</text>
<rect x="261.6" y="219.5" width="176.4" height="142.7" fill="none" stroke="#868686" stroke-width="1.1"/>
<line x1="261.6" y1="362.2" x2="438" y2="362.2" stroke="#555" stroke-width="1.2" />
<line x1="261.6" y1="219.5" x2="261.6" y2="362.2" stroke="#555" stroke-width="1.2" />
<line x1="301.3" y1="362.2" x2="301.3" y2="359.6" stroke="#555" stroke-width="1" />
<text x="300.1" y="375" font-size="10" text-anchor="middle" fill="#222" font-weight="normal" font-style="normal" style="stroke:none" >1</text>
<line x1="341.2" y1="362.2" x2="341.2" y2="359.6" stroke="#555" stroke-width="1" />
<text x="340.0" y="375" font-size="10" text-anchor="middle" fill="#222" font-weight="normal" font-style="normal" style="stroke:none" >2</text>
<line x1="381.1" y1="362.2" x2="381.1" y2="359.6" stroke="#555" stroke-width="1" />
<text x="379.90000000000003" y="375" font-size="10" text-anchor="middle" fill="#222" font-weight="normal" font-style="normal" style="stroke:none" >3</text>
<line x1="421.0" y1="362.2" x2="421.0" y2="359.6" stroke="#555" stroke-width="1" />
<text x="419.8" y="375" font-size="10" text-anchor="middle" fill="#222" font-weight="normal" font-style="normal" style="stroke:none" >4</text>
<line x1="261.6" y1="332.40000000000003" x2="264.3" y2="332.40000000000003" stroke="#555" stroke-width="1" />
<text x="256.4" y="336.00000000000006" font-size="10" text-anchor="end" fill="#222" font-weight="normal" font-style="normal" style="stroke:none" >20</text>
<line x1="261.6" y1="301.0" x2="264.3" y2="301.0" stroke="#555" stroke-width="1" />
<text x="256.4" y="304.6" font-size="10" text-anchor="end" fill="#222" font-weight="normal" font-style="normal" style="stroke:none" >40</text>
<line x1="261.6" y1="269.6" x2="264.3" y2="269.6" stroke="#555" stroke-width="1" />
<text x="256.4" y="273.20000000000005" font-size="10" text-anchor="end" fill="#222" font-weight="normal" font-style="normal" style="stroke:none" >60</text>
<line x1="261.6" y1="238.2" x2="264.3" y2="238.2" stroke="#555" stroke-width="1" />
<text x="256.4" y="241.79999999999998" font-size="10" text-anchor="end" fill="#222" font-weight="normal" font-style="normal" style="stroke:none" >80</text>
<text x="319" y="393" font-size="12" text-anchor="start" fill="#222" font-weight="normal" font-style="normal" textLength="61" lengthAdjust="spacingAndGlyphs" style="stroke:#222;stroke-width:0.15px" >Energy (eV)</text>
<text transform="translate(231.2,318.1) rotate(-90)" font-size="12" fill="#222" textLength="53.9" lengthAdjust="spacingAndGlyphs">Area (Δ<tspan font-style="italic">σ</tspan><tspan font-size="8.5" dy="2.5">1</tspan><tspan dy="-2.5">)</tspan></text>
<text x="270.5" y="236.1" font-size="12" fill="#222" textLength="98.9" lengthAdjust="spacingAndGlyphs">Films on YAO(110)<tspan font-size="7" dy="2.6">o</tspan></text>
<line x1="271.3" y1="252.8" x2="281.7" y2="252.8" stroke="#c764d8" stroke-width="1.9" />
<line x1="271.3" y1="269.8" x2="281.7" y2="269.8" stroke="#62a828" stroke-width="1.9" />
<line x1="271.3" y1="287.1" x2="281.7" y2="287.1" stroke="#c9c414" stroke-width="1.9" />
<text x="287.7" y="256.2" font-size="12" text-anchor="start" fill="#222" font-weight="normal" font-style="normal" textLength="33.8" lengthAdjust="spacingAndGlyphs" style="stroke:#222;stroke-width:0.15px" >48 nm</text>
<text x="287.7" y="274" font-size="12" text-anchor="start" fill="#222" font-weight="normal" font-style="normal" textLength="32" lengthAdjust="spacingAndGlyphs" style="stroke:#222;stroke-width:0.15px" >27 nm</text>
<text x="287.7" y="291.1" font-size="12" text-anchor="start" fill="#222" font-weight="normal" font-style="normal" textLength="29" lengthAdjust="spacingAndGlyphs" style="stroke:#222;stroke-width:0.15px" >11 nm</text>
<clipPath id="cld"><rect x="261.6" y="219.5" width="176.4" height="142.7"/></clipPath>
<g clip-path="url(#cld)">
<path d="M312.00,362.30 C313.67,362.25 319.27,362.25 322.00,362.00 C324.73,361.75 326.42,362.07 328.40,360.80 C330.38,359.53 332.05,356.90 333.90,354.40 C335.75,351.90 337.63,348.87 339.50,345.80 C341.37,342.73 343.47,339.13 345.10,336.00 C346.73,332.87 347.85,329.97 349.30,327.00 C350.75,324.03 352.17,321.77 353.80,318.20 C355.43,314.63 357.20,310.73 359.10,305.60 C361.00,300.47 363.42,292.47 365.20,287.40 C366.98,282.33 368.15,279.60 369.80,275.20 C371.45,270.80 373.38,264.93 375.10,261.00 C376.82,257.07 378.53,254.08 380.10,251.60 C381.67,249.12 383.07,247.38 384.50,246.10 C385.93,244.82 387.32,243.98 388.70,243.90 C390.08,243.82 391.48,244.38 392.80,245.60 C394.12,246.82 395.10,248.08 396.60,251.20 C398.10,254.32 400.10,259.27 401.80,264.30 C403.50,269.33 404.98,275.45 406.80,281.40 C408.62,287.35 411.12,294.98 412.70,300.00 C414.28,305.02 414.60,306.25 416.30,311.50 C418.00,316.75 420.70,325.37 422.90,331.50 C425.10,337.63 427.57,343.55 429.50,348.30 C431.43,353.05 433.33,357.38 434.50,360.00 C435.67,362.62 436.17,363.33 436.50,364.00" fill="none" stroke="#c764d8" stroke-width="2.0" stroke-linejoin="round" stroke-linecap="round" />
<path d="M312.00,362.30 C313.67,362.25 319.27,362.25 322.00,362.00 C324.73,361.75 326.42,362.03 328.40,360.80 C330.38,359.57 332.05,357.03 333.90,354.60 C335.75,352.17 337.63,349.10 339.50,346.20 C341.37,343.30 343.23,340.45 345.10,337.20 C346.97,333.95 348.80,330.18 350.70,326.70 C352.60,323.22 354.58,319.88 356.50,316.30 C358.42,312.72 360.25,309.27 362.20,305.20 C364.15,301.13 366.18,295.88 368.20,291.90 C370.22,287.92 372.27,284.47 374.30,281.30 C376.33,278.13 378.32,275.02 380.40,272.90 C382.48,270.78 385.03,269.10 386.80,268.60 C388.57,268.10 389.63,269.00 391.00,269.90 C392.37,270.80 393.75,272.40 395.00,274.00 C396.25,275.60 397.13,277.08 398.50,279.50 C399.87,281.92 401.60,285.08 403.20,288.50 C404.80,291.92 406.63,296.50 408.10,300.00 C409.57,303.50 410.63,306.70 412.00,309.50 C413.37,312.30 414.48,314.10 416.30,316.80 C418.12,319.50 420.70,323.28 422.90,325.70 C425.10,328.12 427.32,329.65 429.50,331.30 C431.68,332.95 434.58,334.75 436.00,335.60 C437.42,336.45 437.67,336.27 438.00,336.40" fill="none" stroke="#62a828" stroke-width="2.0" stroke-linejoin="round" stroke-linecap="round" />
<path d="M312.00,362.30 C314.00,362.25 320.82,362.23 324.00,362.00 C327.18,361.77 328.98,361.78 331.10,360.90 C333.22,360.02 334.83,358.10 336.70,356.70 C338.57,355.30 340.43,353.78 342.30,352.50 C344.17,351.22 346.05,350.28 347.90,349.00 C349.75,347.72 351.38,346.65 353.40,344.80 C355.42,342.95 357.20,340.93 360.00,337.90 C362.80,334.87 367.20,329.38 370.20,326.60 C373.20,323.82 375.22,322.47 378.00,321.20 C380.78,319.93 384.40,318.98 386.90,319.00 C389.40,319.02 390.73,319.57 393.00,321.30 C395.27,323.03 398.00,326.57 400.50,329.40 C403.00,332.23 405.47,335.62 408.00,338.30 C410.53,340.98 413.22,343.53 415.70,345.50 C418.18,347.47 420.60,349.02 422.90,350.10 C425.20,351.18 426.98,351.58 429.50,352.00 C432.02,352.42 436.58,352.50 438.00,352.60" fill="none" stroke="#c9c414" stroke-width="2.0" stroke-linejoin="round" stroke-linecap="round" />
</g>
<text x="465.5" y="214.5" font-size="16.8" text-anchor="start" fill="#000" font-weight="bold" font-style="normal" style="stroke:#000;stroke-width:0.8px">e</text>
<rect x="507.7" y="219.4" width="176.3" height="142.2" fill="none" stroke="#868686" stroke-width="1.1"/>
<line x1="507.7" y1="361.6" x2="684" y2="361.6" stroke="#555" stroke-width="1.2" />
<line x1="507.7" y1="219.4" x2="684.3" y2="219.4" stroke="#5a5a5a" stroke-width="1.1" />
<line x1="507.7" y1="219.4" x2="507.7" y2="361.6" stroke="#555" stroke-width="1.2" />
<text x="505.5" y="374.8" font-size="10" text-anchor="middle" fill="#222" font-weight="normal" font-style="normal" style="stroke:none" >0</text>
<line x1="541.6" y1="361.6" x2="541.6" y2="359" stroke="#555" stroke-width="1" />
<text x="541.6" y="374.8" font-size="10" text-anchor="middle" fill="#222" font-weight="normal" font-style="normal" style="stroke:none" >10</text>
<line x1="575.5" y1="361.6" x2="575.5" y2="359" stroke="#555" stroke-width="1" />
<text x="575.5" y="374.8" font-size="10" text-anchor="middle" fill="#222" font-weight="normal" font-style="normal" style="stroke:none" >20</text>
<line x1="609.4" y1="361.6" x2="609.4" y2="359" stroke="#555" stroke-width="1" />
<text x="609.4" y="374.8" font-size="10" text-anchor="middle" fill="#222" font-weight="normal" font-style="normal" style="stroke:none" >30</text>
<line x1="643.3" y1="361.6" x2="643.3" y2="359" stroke="#555" stroke-width="1" />
<text x="643.3" y="374.8" font-size="10" text-anchor="middle" fill="#222" font-weight="normal" font-style="normal" style="stroke:none" >40</text>
<line x1="677.2" y1="361.6" x2="677.2" y2="359" stroke="#555" stroke-width="1" />
<text x="677.2" y="374.8" font-size="10" text-anchor="middle" fill="#222" font-weight="normal" font-style="normal" style="stroke:none" >50</text>
<text x="503.4" y="365.0" font-size="10" text-anchor="end" fill="#222" font-weight="normal" font-style="normal" style="stroke:none" >0</text>
<line x1="507.7" y1="327.70000000000005" x2="510.4" y2="327.70000000000005" stroke="#555" stroke-width="1" />
<text x="503.4" y="331.1" font-size="10" text-anchor="end" fill="#222" font-weight="normal" font-style="normal" style="stroke:none" >20</text>
<line x1="507.7" y1="293.8" x2="510.4" y2="293.8" stroke="#555" stroke-width="1" />
<text x="503.4" y="297.2" font-size="10" text-anchor="end" fill="#222" font-weight="normal" font-style="normal" style="stroke:none" >40</text>
<line x1="507.7" y1="259.90000000000003" x2="510.4" y2="259.90000000000003" stroke="#555" stroke-width="1" />
<text x="503.4" y="263.3" font-size="10" text-anchor="end" fill="#222" font-weight="normal" font-style="normal" style="stroke:none" >60</text>
<line x1="507.7" y1="226.00000000000003" x2="510.4" y2="226.00000000000003" stroke="#555" stroke-width="1" />
<text x="503.4" y="229.40000000000003" font-size="10" text-anchor="end" fill="#222" font-weight="normal" font-style="normal" style="stroke:none" >80</text>
<text x="556.3" y="392" font-size="12" text-anchor="start" fill="#222" font-weight="normal" font-style="normal" textLength="80.3" lengthAdjust="spacingAndGlyphs" style="stroke:#222;stroke-width:0.15px" >Thickness (nm)</text>
<text transform="translate(481.4,354) rotate(-90)" font-size="12" fill="#222" textLength="133" lengthAdjust="spacingAndGlyphs">Max. value of Δ<tspan font-style="italic">σ</tspan><tspan font-size="8.5" dy="2.5">1</tspan><tspan dy="-2.5"> integral</tspan></text>
<path d="M545.0,313.3 Q570.7,284.9 599.2,259.2 Q633.7,242.9 670.4,232.1" fill="none" stroke="#a8a8a8" stroke-width="2" stroke-dasharray="3,4.6" stroke-dashoffset="-2"/>
<line x1="537.532" y1="313.2925" x2="552.448" y2="313.2925" stroke="#555" stroke-width="1" />
<line x1="544.99" y1="306.004" x2="544.99" y2="320.581" stroke="#555" stroke-width="1" />
<line x1="537.532" y1="311.6925" x2="537.532" y2="314.89250000000004" stroke="#555" stroke-width="1" />
<line x1="552.448" y1="311.6925" x2="552.448" y2="314.89250000000004" stroke="#555" stroke-width="1" />
<line x1="543.39" y1="306.004" x2="546.59" y2="306.004" stroke="#555" stroke-width="1" />
<line x1="543.39" y1="320.581" x2="546.59" y2="320.581" stroke="#555" stroke-width="1" />
<rect x="542.6" y="310.9" width="4.8" height="4.8" fill="#000"/>
<line x1="593.467" y1="259.22200000000004" x2="604.9929999999999" y2="259.22200000000004" stroke="#555" stroke-width="1" />
<line x1="599.23" y1="257.52700000000004" x2="599.23" y2="260.91700000000003" stroke="#555" stroke-width="1" />
<line x1="593.467" y1="257.622" x2="593.467" y2="260.82200000000006" stroke="#555" stroke-width="1" />
<line x1="604.9929999999999" y1="257.622" x2="604.9929999999999" y2="260.82200000000006" stroke="#555" stroke-width="1" />
<line x1="597.63" y1="257.52700000000004" x2="600.83" y2="257.52700000000004" stroke="#555" stroke-width="1" />
<line x1="597.63" y1="260.91700000000003" x2="600.83" y2="260.91700000000003" stroke="#555" stroke-width="1" />
<rect x="596.8" y="256.8" width="4.8" height="4.8" fill="#000"/>
<line x1="661.267" y1="232.102" x2="679.573" y2="232.102" stroke="#555" stroke-width="1" />
<line x1="670.42" y1="228.373" x2="670.42" y2="235.83100000000002" stroke="#555" stroke-width="1" />
<line x1="661.267" y1="230.502" x2="661.267" y2="233.702" stroke="#555" stroke-width="1" />
<line x1="679.573" y1="230.502" x2="679.573" y2="233.702" stroke="#555" stroke-width="1" />
<line x1="668.8199999999999" y1="228.373" x2="672.02" y2="228.373" stroke="#555" stroke-width="1" />
<line x1="668.8199999999999" y1="235.83100000000002" x2="672.02" y2="235.83100000000002" stroke="#555" stroke-width="1" />
<rect x="668.0" y="229.7" width="4.8" height="4.8" fill="#000"/>
</svg></body></html>
